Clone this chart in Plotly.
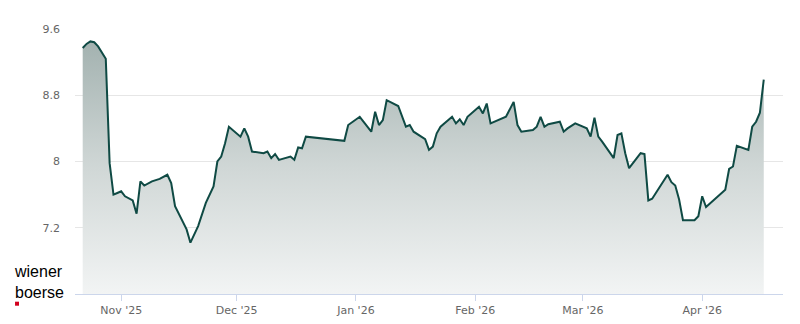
import plotly.graph_objects as go

dates = [
    "2025-10-22", "2025-10-23", "2025-10-24", "2025-10-25", "2025-10-26", "2025-10-28",
    "2025-10-29", "2025-10-30", "2025-10-31", "2025-11-01", "2025-11-02", "2025-11-04",
    "2025-11-05", "2025-11-06", "2025-11-07", "2025-11-08", "2025-11-09", "2025-11-11",
    "2025-11-13", "2025-11-14", "2025-11-15", "2025-11-18", "2025-11-19", "2025-11-21",
    "2025-11-23", "2025-11-25", "2025-11-26", "2025-11-27", "2025-11-28", "2025-11-29",
    "2025-12-02", "2025-12-03", "2025-12-04", "2025-12-05", "2025-12-08", "2025-12-09",
    "2025-12-10", "2025-12-11", "2025-12-12", "2025-12-15", "2025-12-16", "2025-12-17",
    "2025-12-18", "2025-12-19", "2025-12-29", "2025-12-30", "2026-01-02", "2026-01-05",
    "2026-01-06", "2026-01-07", "2026-01-08", "2026-01-09", "2026-01-12", "2026-01-14",
    "2026-01-15", "2026-01-16", "2026-01-19", "2026-01-20", "2026-01-21", "2026-01-22",
    "2026-01-23", "2026-01-26", "2026-01-27", "2026-01-28", "2026-01-29", "2026-01-30",
    "2026-02-02", "2026-02-03", "2026-02-04", "2026-02-05", "2026-02-09", "2026-02-11",
    "2026-02-12", "2026-02-13", "2026-02-16", "2026-02-17", "2026-02-18", "2026-02-19",
    "2026-02-20", "2026-02-23", "2026-02-24", "2026-02-25", "2026-02-27", "2026-03-02",
    "2026-03-03", "2026-03-04", "2026-03-05", "2026-03-06", "2026-03-09", "2026-03-10",
    "2026-03-11", "2026-03-12", "2026-03-13", "2026-03-16", "2026-03-17", "2026-03-18",
    "2026-03-19", "2026-03-23", "2026-03-24", "2026-03-25", "2026-03-26", "2026-03-27",
    "2026-03-30", "2026-03-31", "2026-04-01", "2026-04-02", "2026-04-07", "2026-04-08",
    "2026-04-09", "2026-04-10", "2026-04-13", "2026-04-14", "2026-04-15", "2026-04-16",
    "2026-04-17",
]

prices = [
    9.37, 9.42, 9.45, 9.44, 9.39, 9.24,
    7.98, 7.60, 7.62, 7.64, 7.58, 7.53,
    7.37, 7.76, 7.71, 7.74, 7.76, 7.79,
    7.84, 7.74, 7.46, 7.18, 7.02, 7.22,
    7.50, 7.70, 8.00, 8.06, 8.22, 8.42,
    8.30, 8.40, 8.30, 8.12, 8.10, 8.12,
    8.04, 8.09, 8.02, 8.06, 8.02, 8.17,
    8.16, 8.30, 8.25, 8.44, 8.54, 8.36,
    8.60, 8.44, 8.50, 8.74, 8.67, 8.42,
    8.44, 8.36, 8.27, 8.14, 8.18, 8.34,
    8.42, 8.54, 8.46, 8.51, 8.44, 8.54,
    8.66, 8.58, 8.70, 8.46, 8.54, 8.72,
    8.44, 8.36, 8.38, 8.42, 8.54, 8.42,
    8.45, 8.48, 8.36, 8.40, 8.46, 8.40,
    8.30, 8.53, 8.30, 8.24, 8.04, 8.32,
    8.34, 8.10, 7.92, 8.10, 8.09, 7.53,
    7.55, 7.84, 7.75, 7.71, 7.54, 7.29,
    7.29, 7.34, 7.58, 7.45, 7.66, 7.91,
    7.94, 8.19, 8.14, 8.42, 8.48, 8.59,
    8.99,
]

y_ticks = [7.2, 8, 8.8, 9.6]
y_tick_text = ["7.2", "8", "8.8", "9.6"]

fig = go.Figure()
fig.add_trace(go.Scatter(
    x=dates, y=prices, mode="lines",
    line=dict(color="#0f4a44", width=2),
    fill="tozeroy",
    fillgradient=dict(
        type="vertical",
        start=6.4, stop=9.45,
        colorscale=[[0, "rgb(242,244,244)"], [0.5, "rgb(208,215,214)"], [1, "rgb(163,178,176)"]],
    ),
    hoverinfo="skip",
))

fig.update_layout(
    width=800, height=324,
    margin=dict(l=75, r=17, t=29, b=30, autoexpand=False),
    paper_bgcolor="white", plot_bgcolor="white",
    showlegend=False,
    font=dict(family="DejaVu Sans", size=11, color="#666666"),
)

fig.update_xaxes(
    type="date",
    range=["2025-10-20", "2026-04-22"],
    tick0="2025-11-01", dtick="M1",
    tickformat="%b '%y",
    showgrid=False,
    showline=True, linecolor="#ccd6eb", linewidth=1,
    ticks="outside", ticklen=6, tickcolor="#ccd6eb",
    tickfont=dict(family="DejaVu Sans", size=11, color="#666666"),
    zeroline=False, automargin=False,
)

fig.update_yaxes(
    range=[6.4, 9.6],
    tickvals=y_ticks, ticktext=y_tick_text,
    showgrid=True, gridcolor="#e6e6e6", gridwidth=1,
    showline=False, zeroline=False,
    ticks="", ticklabelstandoff=14, automargin=False,
    tickfont=dict(family="DejaVu Sans", size=11, color="#666666"),
)

# wiener boerse logo (one text block, two lines)
fig.add_annotation(xref="paper", yref="paper", x=-0.0876, y=0.044, xanchor="left", yanchor="middle",
                   text="wiener<br>boerse", showarrow=False, align="left", borderpad=0,
                   font=dict(family="Liberation Sans", size=16, color="#000000"))
fig.add_shape(type="rect", xref="paper", yref="paper",
              x0=-0.0847, x1=-0.0791, y0=-0.0442, y1=-0.029,
              fillcolor="#d2001e", line=dict(width=0))

fig.write_html("out.html")
